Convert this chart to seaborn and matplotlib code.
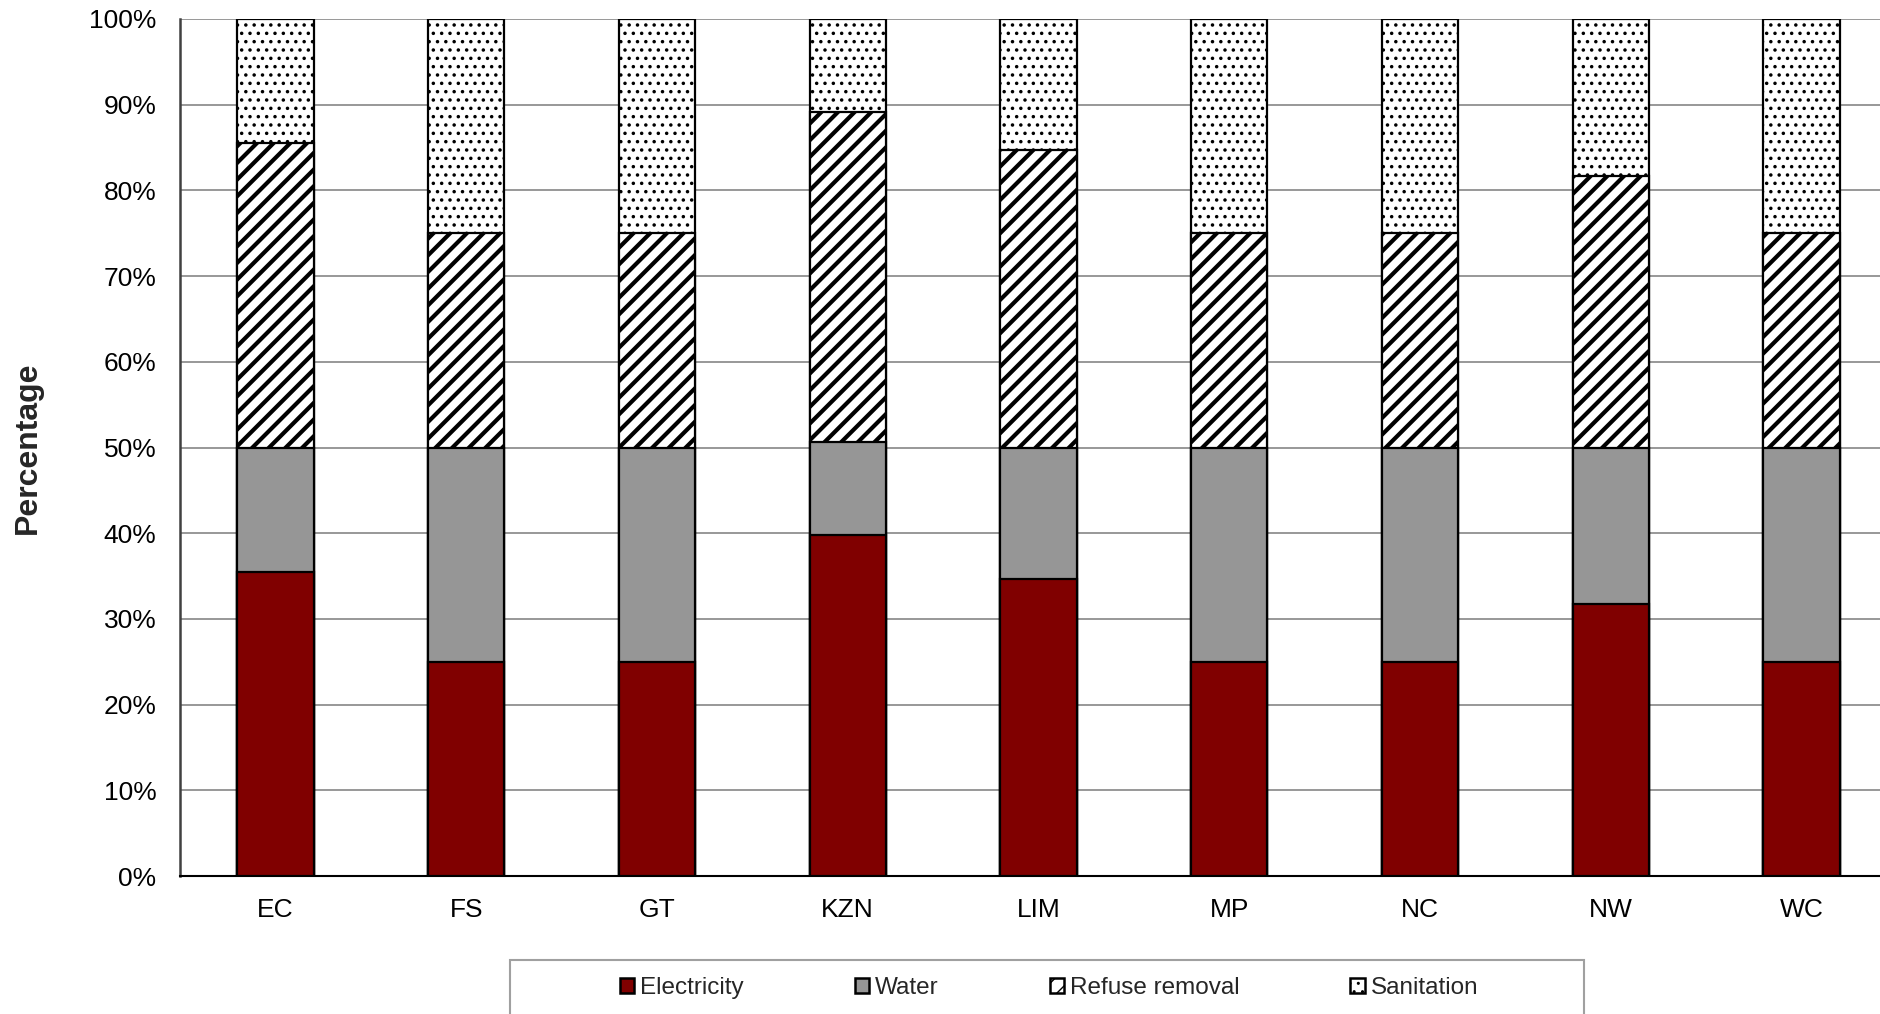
import matplotlib
matplotlib.use("Agg")
import matplotlib.pyplot as plt
import matplotlib.patches as mpatches
import numpy as np
import seaborn as sns

# Data (percent share per province)
provinces = ["EC", "FS", "GT", "KZN", "LIM", "MP", "NC", "NW", "WC"]
electricity = [35.5, 25, 25, 39.8, 34.7, 25, 25, 31.7, 25]
water = [14.5, 25, 25, 10.9, 15.3, 25, 25, 18.3, 25]
refuse = [35.5, 25, 25, 38.4, 34.7, 25, 25, 31.7, 25]
sanitation = [14.5, 25, 25, 10.9, 15.3, 25, 25, 18.3, 25]

series_names = ["Electricity", "Water", "Refuse removal", "Sanitation"]
colors = ["#800000", "#969696", "white", "white"]
hatches = [None, None, "//", ".."]
hatch_lw = [1.0, 1.0, 3.0, 1.3]

sns.set_style("white")
plt.rcParams["font.family"] = ["Liberation Sans", "DejaVu Sans"]

fig = plt.figure(figsize=(18.81, 10.14), dpi=100)
ax = fig.add_axes([180 / 1881, 1 - 876 / 1014, 1717 / 1881, 857 / 1014])

# cumulative tops, drawn from the top layer down so lower bars overlap
layers = [electricity, water, refuse, sanitation]
cum = np.cumsum(np.array(layers), axis=0)

for i in [3, 2, 1, 0]:
    plt.rcParams["hatch.linewidth"] = hatch_lw[i]
    n_before = len(ax.patches)
    kw = {}
    if hatches[i]:
        kw["hatch"] = hatches[i]
    sns.barplot(x=provinces, y=cum[i], color=colors[i], saturation=1,
                width=0.4, edgecolor="black", linewidth=1.6, ax=ax, **kw)
    for p in ax.patches[n_before:]:
        p.set_zorder(3 + (3 - i))
        if hasattr(p, "set_hatch_linewidth"):
            p.set_hatch_linewidth(hatch_lw[i])

ax.set_xlim(-0.5, 8.5)
ax.set_ylim(0, 100)
ax.set_yticks(np.arange(0, 101, 10))
ax.set_yticklabels([f"{v}%" for v in range(0, 101, 10)])
ax.tick_params(axis="both", length=0, labelsize=19, colors="black")
ax.tick_params(axis="y", pad=17)
ax.tick_params(axis="x", pad=16)
ax.yaxis.grid(True, color="#868686", linewidth=1.2)
ax.set_axisbelow(True)
ax.set_xlabel("")
ax.set_ylabel("Percentage", fontsize=23, fontweight="bold")
ax.yaxis.set_label_coords((43 - 180) / 1717, 0.5)

for s in ["top", "right"]:
    ax.spines[s].set_visible(False)
ax.spines["left"].set_color("#404040")
ax.spines["left"].set_linewidth(1.8)
ax.spines["bottom"].set_color("black")
ax.spines["bottom"].set_linewidth(1.5)

# legend with a separate frame box
handles = []
for i in range(4):
    plt.rcParams["hatch.linewidth"] = 1.5 if i == 2 else 1.0
    h = mpatches.Patch(facecolor=colors[i], edgecolor="black", linewidth=1.8,
                       hatch=hatches[i], label=series_names[i])
    if hasattr(h, "set_hatch_linewidth"):
        h.set_hatch_linewidth(1.5 if i == 2 else 1.0)
    handles.append(h)

fig.legend(handles=handles, loc="center", bbox_to_anchor=(1049 / 1881, 1 - 988 / 1014),
           ncol=4, frameon=False, fontsize=17.5, handlelength=0.58, handleheight=0.58,
           handletextpad=0.25, columnspacing=4.57)

frame = mpatches.Rectangle((510 / 1881, -0.05), 1074 / 1881, 0.05 + 54 / 1014,
                           transform=fig.transFigure, facecolor="none",
                           edgecolor="#a0a0a0", linewidth=1.5)
fig.patches.append(frame)

fig.savefig("out.png", dpi=100)
